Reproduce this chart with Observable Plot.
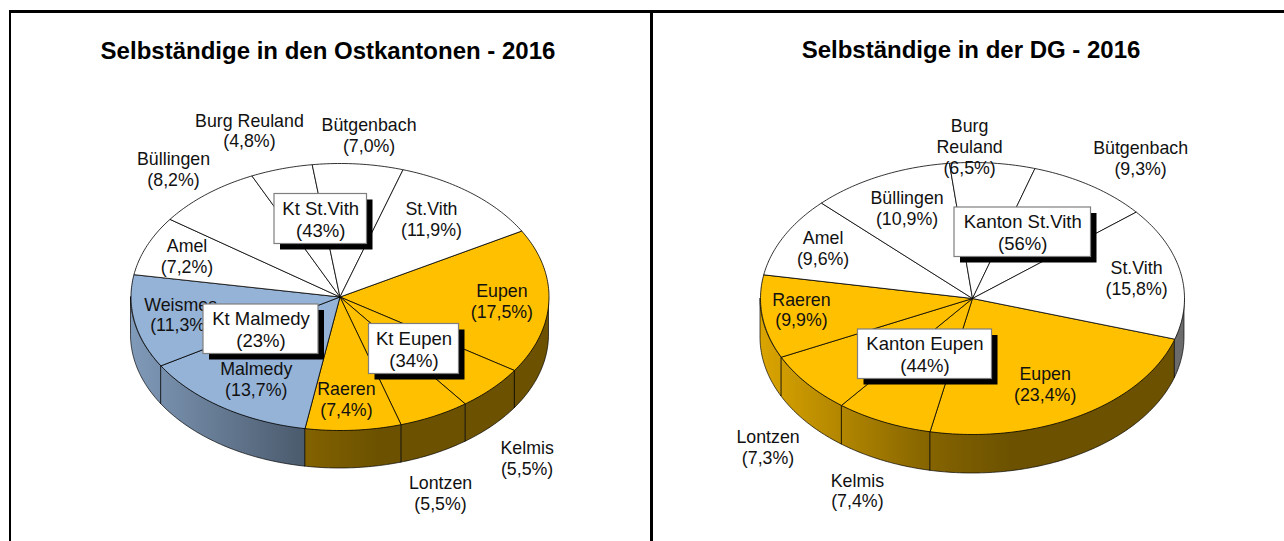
<!DOCTYPE html>
<html>
<head>
<meta charset="utf-8">
<script src="https://cdn.jsdelivr.net/npm/d3@7"></script>
<script src="https://cdn.jsdelivr.net/npm/@observablehq/plot@0.6"></script>
<style>
html,body{margin:0;padding:0;background:#fff;width:1284px;height:541px;overflow:hidden}
#wrap{position:relative;width:1284px;height:541px}
#wrap svg{position:absolute;top:0;background:transparent;display:block}
.bar{position:absolute;background:#000}
</style>
</head>
<body>
<div id="wrap">
  <div class="bar" style="left:9px;top:10px;width:1275px;height:3px"></div>
  <div class="bar" style="left:9px;top:10px;width:2px;height:531px"></div>
  <div class="bar" style="left:650px;top:10px;width:3px;height:531px"></div>
</div>
<script>
// ---------- data ----------
const ostTitle = "Selbständige in den Ostkantonen - 2016";
const ostNames = ["Eupen","Kelmis","Lontzen","Raeren","Malmedy","Weismes","Amel","Büllingen","Burg Reuland","Bütgenbach","St.Vith"];
const ostValues = [17.5,5.5,5.5,7.4,13.7,11.3,7.2,8.2,4.8,7.0,11.9];
const ostGroups = ["Eupen","Eupen","Eupen","Eupen","Malmedy","Malmedy","St.Vith","St.Vith","St.Vith","St.Vith","St.Vith"];
const ostBoxNames = ["Kt St.Vith","Kt Malmedy","Kt Eupen"];
const ostBoxValues = [43,23,34];

const dgTitle = "Selbständige in der DG - 2016";
const dgNames = ["Eupen","Kelmis","Lontzen","Raeren","Amel","Büllingen","Burg\nReuland","Bütgenbach","St.Vith"];
const dgValues = [23.4,7.4,7.3,9.9,9.6,10.9,6.5,9.3,15.8];
const dgGroups = ["Eupen","Eupen","Eupen","Eupen","St.Vith","St.Vith","St.Vith","St.Vith","St.Vith"];
const dgBoxNames = ["Kanton St.Vith","Kanton Eupen"];
const dgBoxValues = [56,44];

const groupNames = ["Eupen","St.Vith","Malmedy"];
const groupColors = ["#ffc000","#ffffff","#95b3d7"];

// ---------- layout (pixels within each panel) ----------
const ostLayout = {
  left:0, width:652, cx:339.5, cy:296.5, rx:209, ry:133.5, depth:38, start:60.4,
  titleX:327.5, titleY:51,
  nudges:[[-47,1],[35,71],[6,78],[-7,-30],[34,-27],[46,-6],[40,12],[-33,-24],[-32,-37],[11,-28],[-40,27]],
  boxes:[[274,193.5,366.5,243.5],[203,304,318,353.5],[368.5,323.5,458.5,373.5]]
};
const dgLayout = {
  left:652, width:632, cx:320, cy:298, rx:212, ry:136, depth:39, start:107.4,
  titleX:318.5, titleY:50,
  nudges:[[-35,-30],[-26,70],[-39,65],[39,-6],[39,13],[27,33],[-23,-15],[50,-26],[-44,7]],
  boxes:[[302,207,438.5,256.5],[205.5,329,339.5,378.5]]
};
const FONT = "Liberation Sans, Arial, sans-serif";
const LABEL_SIZE = 17.8;
const BOX_SIZE = 18.5;
const TITLE_SIZE = 24;
const rad = d => d * Math.PI / 180;

function pie(title, names, values, groups, boxNames, boxValues, L) {
  const total = d3.sum(values);
  const k = 360 / total;
  const ux = p => (p - L.cx) / L.rx, uy = p => (L.cy - p) / L.ry;
  const wallUnits = L.depth / L.ry;
  let a = L.start;
  const slices = values.map((v, i) => {
    const s = {name: names[i], value: v, group: groups[i], a0: a, a1: a + v * k, i};
    a = s.a1;
    s.mid = (s.a0 + s.a1) / 2;
    return s;
  });
  const arcAngles = (a0, a1) => d3.range(a0, a1, 1).concat([a1]);
  const top = slices.flatMap(s => [
    {i: s.i, group: s.group, x: 0, y: 0},
    ...arcAngles(s.a0, s.a1).map(t => ({i: s.i, group: s.group, x: Math.sin(rad(t)), y: Math.cos(rad(t))})),
    {i: s.i, group: s.group, x: 0, y: 0}
  ]);
  const wall = slices.flatMap(s => {
    const out = [];
    for (const off of [0, 360]) {
      const a0 = Math.max(s.a0, 90 + off), a1 = Math.min(s.a1, 270 + off);
      if (a1 > a0) for (const t of arcAngles(a0, a1))
        out.push({i: s.i, group: s.group, x: Math.sin(rad(t)), y: Math.cos(rad(t)), yb: Math.cos(rad(t)) - wallUnits});
    }
    return out;
  });
  const gid = g => ("w" + L.left + g).toLowerCase().replace(/[^a-z0-9]/g, "");
  const defs = (index, {x}) => {
    const d = d3.create("svg:defs");
    groupNames.forEach((g, n) => {
      const c = d3.color(groupColors[n]);
      const lg = d.append("linearGradient").attr("id", gid(g)).attr("gradientUnits", "userSpaceOnUse")
        .attr("x1", x(-1)).attr("x2", x(1)).attr("y1", 0).attr("y2", 0);
      [[0,.86],[.4,.52],[.6,.42],[1,.42]].forEach(([o, f]) => {
        lg.append("stop").attr("offset", o)
          .attr("stop-color", d3.rgb(c.r * f, c.g * f, c.b * f).formatHex());
      });
    });
    return d.node();
  };
  const labels = slices.map((s, i) => ({
    text: `${s.name}\n(${s.value.toFixed(1).replace(".", ",")}%)`,
    x: Math.sin(rad(s.mid)) + L.nudges[i][0] / L.rx,
    y: Math.cos(rad(s.mid)) - L.nudges[i][1] / L.ry
  }));
  const boxes = boxNames.map((n, i) => {
    const [x0, y0, x1, y1] = L.boxes[i];
    return {text: `${n}\n(${boxValues[i]}%)`, x1: ux(x0), x2: ux(x1), y1: uy(y0), y2: uy(y1),
            x: ux((x0 + x1) / 2), y: uy((y0 + y1) / 2)};
  });
  const chart = Plot.plot({
    width: L.width, height: 541,
    marginTop: 0, marginRight: 0, marginBottom: 0, marginLeft: 0,
    x: {domain: [-1, 1], range: [L.cx - L.rx, L.cx + L.rx], axis: null},
    y: {domain: [-1, 1], range: [L.cy + L.ry, L.cy - L.ry], axis: null},
    color: {domain: groupNames, range: groupColors},
    style: {background: "transparent", fontFamily: FONT, overflow: "visible"},
    marks: [
      defs,
      ...groupNames.map(g => Plot.areaY(wall.filter(d => d.group === g), {
        x: "x", y1: "y", y2: "yb", z: "i", fill: `url(#${gid(g)})`,
        stroke: "#000", strokeWidth: 0.8, strokeOpacity: 0.85
      })),
      Plot.line(top, {x: "x", y: "y", z: "i", fill: "group", stroke: "#000", strokeWidth: 0.8, strokeLinejoin: "round"}),
      Plot.text(labels, {x: "x", y: "y", text: "text", fontSize: LABEL_SIZE, fill: "#111", lineHeight: 1.17, dy: -1.5}),
      Plot.rect(boxes, {x1: "x1", x2: "x2", y1: "y1", y2: "y2", fill: "#000", dx: 6, dy: 6}),
      Plot.rect(boxes, {x1: "x1", x2: "x2", y1: "y1", y2: "y2", fill: "#fff", stroke: "#7f7f7f", strokeWidth: 1.2}),
      Plot.text(boxes, {x: "x", y: "y", text: "text", fontSize: BOX_SIZE, fill: "#111", lineHeight: 1.17}),
      Plot.text([title], {x: [ux(L.titleX)], y: [uy(L.titleY)], text: d => d, fontSize: TITLE_SIZE, fontWeight: "bold", fill: "#000"})
    ]
  });
  chart.style.left = L.left + "px";
  return chart;
}
const wrap = document.getElementById("wrap");
wrap.append(pie(ostTitle, ostNames, ostValues, ostGroups, ostBoxNames, ostBoxValues, ostLayout));
wrap.append(pie(dgTitle, dgNames, dgValues, dgGroups, dgBoxNames, dgBoxValues, dgLayout));
</script>
</body>
</html>
